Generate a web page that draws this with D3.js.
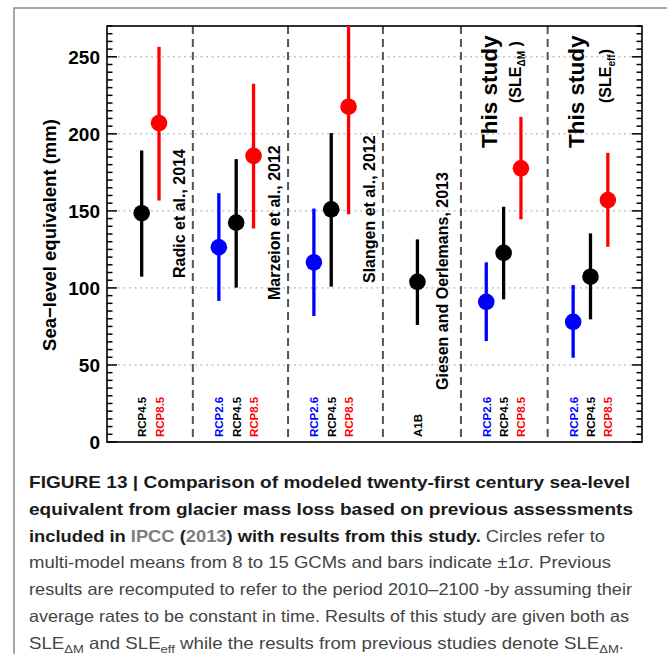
<!DOCTYPE html>
<html>
<head>
<meta charset="utf-8">
<script src="https://cdn.jsdelivr.net/npm/d3@7"></script>
<style>
  body { margin: 0; background: #fff; }
  svg { display: block; font-family: 'Liberation Sans', Arial, sans-serif; }
</style>
</head>
<body>
<script>
// values (mm SLE, 2010-2100)
const scenarios = ['RCP4.5', 'RCP8.5',
    'RCP2.6', 'RCP4.5', 'RCP8.5',
    'RCP2.6', 'RCP4.5', 'RCP8.5',
    'A1B',
    'RCP2.6', 'RCP4.5', 'RCP8.5',
    'RCP2.6', 'RCP4.5', 'RCP8.5'];
const xPos = [2, 3, 6.45, 7.45, 8.45, 11.93, 12.93, 13.93, 17.9, 21.87, 22.87, 23.87, 26.88, 27.88, 28.88];
const means = [148.5, 207, 126.4, 142.4, 185.7, 116.6, 151, 217.6, 104, 91, 122.8, 177.6, 78, 107.3, 157];
const upper = [189.2, 256.5, 161.5, 183.6, 232.5, 151.5, 200.5, 288, 131.5, 116.6, 152.7, 211, 101.9, 135.4, 187.7];
const lower = [107.3, 156.7, 91.6, 100.2, 138.5, 81.8, 100.8, 147.8, 76, 65.5, 92.6, 144.5, 54.7, 79.6, 126.7];

const separators = [4.95, 10.44, 15.91, 20.41, 25.41];
const yTicks = [0, 50, 100, 150, 200, 250];

const studies = [
    { name: 'Radic et al.', year: '2014' },
    { name: 'Marzeion et al.', year: '2012' },
    { name: 'Slangen et al.', year: '2012' },
    { name: 'Giesen and Oerlemans', year: '2013' }
];
const thisStudy = [{ title: 'This study', sub: 'ΔM' }, { title: 'This study', sub: 'eff' }];

const colors = { 'RCP2.6': '#0000ff', 'RCP4.5': '#000000', 'RCP8.5': '#ff0000', 'A1B': '#000000' };

const W = 667, H = 654;
const plot = { left: 107, right: 642, top: 26, bottom: 442 };

const svg = d3.select('body').append('svg')
    .attr('width', W)
    .attr('height', H);

svg.append('rect').attr('width', W).attr('height', H).attr('fill', '#fff');

// outer panel frame (runs off the page to the right and bottom)
svg.append('rect')
    .attr('x', 14).attr('y', 8)
    .attr('width', 700).attr('height', 700)
    .attr('fill', 'none')
    .attr('stroke', '#8a8a8a')
    .attr('stroke-width', 1.5);

const x = d3.scaleLinear().domain([0, 30.85]).range([plot.left, plot.right]);
const y = d3.scaleLinear().domain([0, 270]).range([plot.bottom, plot.top]);

svg.append('clipPath').attr('id', 'clip')
    .append('rect')
    .attr('x', plot.left).attr('y', plot.top)
    .attr('width', plot.right - plot.left).attr('height', plot.bottom - plot.top);

// dotted grid
svg.append('g').selectAll('line')
    .data(yTicks.filter(d => d > 0))
    .join('line')
    .attr('x1', plot.left).attr('x2', plot.right)
    .attr('y1', d => y(d)).attr('y2', d => y(d))
    .attr('stroke', '#a8a8a8')
    .attr('stroke-width', 1)
    .attr('stroke-dasharray', '2,3.5');

// dashed separators between studies
svg.append('g').selectAll('line')
    .data(separators)
    .join('line')
    .attr('x1', d => x(d)).attr('x2', d => x(d))
    .attr('y1', plot.top).attr('y2', plot.bottom)
    .attr('stroke', '#555')
    .attr('stroke-width', 2)
    .attr('stroke-dasharray', '8,5');

// inward ticks on both sides: minor every 5 mm, major every 50
const tickVals = d3.range(0, 271, 5);
[[plot.left, 1], [plot.right, -1]].forEach(([pos, dir]) => {
    svg.append('g').selectAll('line')
        .data(tickVals)
        .join('line')
        .attr('x1', pos)
        .attr('x2', d => pos + dir * (d % 50 === 0 ? 10 : 5.5))
        .attr('y1', d => y(d))
        .attr('y2', d => y(d))
        .attr('stroke', '#000')
        .attr('stroke-width', 1.5);
});

// plot frame
svg.append('rect')
    .attr('x', plot.left).attr('y', plot.top)
    .attr('width', plot.right - plot.left).attr('height', plot.bottom - plot.top)
    .attr('fill', 'none')
    .attr('stroke', '#000')
    .attr('stroke-width', 1.6);

// y tick labels
svg.append('g').selectAll('text')
    .data(yTicks)
    .join('text')
    .attr('x', 100)
    .attr('y', d => y(d))
    .attr('dy', '0.36em')
    .attr('text-anchor', 'end')
    .attr('font-size', 19)
    .attr('font-weight', 'bold')
    .text(d => d);

svg.append('text')
    .attr('transform', 'translate(56,235) rotate(-90)')
    .attr('text-anchor', 'middle')
    .attr('font-size', 18.5)
    .attr('font-weight', 'bold')
    .text('Sea\u2212level equivalent (mm)');

// error bars and means
const points = scenarios.map((s, i) => ({ s, x: xPos[i], m: means[i], lo: lower[i], hi: upper[i] }));

const marks = svg.append('g').attr('clip-path', 'url(#clip)');

marks.selectAll('line')
    .data(points)
    .join('line')
    .attr('x1', d => x(d.x)).attr('x2', d => x(d.x))
    .attr('y1', d => y(d.lo)).attr('y2', d => y(d.hi))
    .attr('stroke', d => colors[d.s])
    .attr('stroke-width', 3.3);

marks.selectAll('circle')
    .data(points)
    .join('circle')
    .attr('cx', d => x(d.x))
    .attr('cy', d => y(d.m))
    .attr('r', 8.3)
    .attr('fill', d => colors[d.s]);

// scenario names along the bottom
svg.append('g').selectAll('text')
    .data(points)
    .join('text')
    .attr('transform', d => `translate(${x(d.x) + 4.5},${plot.bottom - 5}) rotate(-90)`)
    .attr('font-size', 11.5)
    .attr('font-weight', 'bold')
    .attr('fill', d => colors[d.s])
    .text(d => d.s);

// study names
const studyLayout = [
    { x: 4.5, y: 278 },
    { x: 9.95, y: 300 },
    { x: 15.46, y: 283 },
    { x: 19.68, y: 390 }
];
svg.append('g').selectAll('text')
    .data(studies)
    .join('text')
    .attr('transform', (d, i) => `translate(${x(studyLayout[i].x)},${studyLayout[i].y}) rotate(-90)`)
    .attr('font-size', 16)
    .attr('font-weight', 'bold')
    .text(d => `${d.name}, ${d.year}`);

// "This study" labels
const thisLayout = [{ x: 22.5, sx: 23.89 }, { x: 27.52, sx: 29.08 }];
thisStudy.forEach((d, i) => {
    svg.append('text')
        .attr('transform', `translate(${x(thisLayout[i].x)},148) rotate(-90)`)
        .attr('font-size', 22.5)
        .attr('font-weight', 'bold')
        .text(d.title);
    const t = svg.append('text')
        .attr('transform', `translate(${x(thisLayout[i].sx)},103) rotate(-90)`)
        .attr('font-size', 16)
        .attr('font-weight', 'bold');
    t.append('tspan').text('(SLE');
    t.append('tspan').attr('font-size', 10).attr('dy', 4).text(d.sub);
    t.append('tspan').attr('dy', -4).text(i === 0 ? ' )' : ')');
});

// caption
const capLines = [
    { len: 601, parts: [{ t: 'FIGURE 13 | Comparison of modeled twenty-first century sea-level', b: true }] },
    { len: 604, parts: [{ t: 'equivalent from glacier mass loss based on previous assessments', b: true }] },
    { len: 576, parts: [{ t: 'included in ', b: true }, { t: 'IPCC', b: true, link: true }, { t: ' (', b: true },
        { t: '2013', b: true, link: true }, { t: ') with results from this study.', b: true }, { t: ' Circles refer to' }] },
    { len: 582, parts: [{ t: 'multi-model means from 8 to 15 GCMs and bars indicate \u00b11' }, { t: '\u03c3', i: true }, { t: '. Previous' }] },
    { len: 603, parts: [{ t: 'results are recomputed to refer to the period 2010\u20132100 -by assuming their' }] },
    { len: 600, parts: [{ t: 'average rates to be constant in time. Results of this study are given both as' }] },
    { len: 595, parts: [{ t: 'SLE' }, { t: '\u0394M', sub: true }, { t: ' and SLE' }, { t: 'eff', sub: true },
        { t: ' while the results from previous studies denote SLE' }, { t: '\u0394M', sub: true }, { t: '.' }] }
];

const capText = svg.append('g').selectAll('text')
    .data(capLines)
    .join('text')
    .attr('x', 29)
    .attr('y', (d, i) => 488 + i * 26.8)
    .attr('font-size', 16.5)
    .attr('textLength', d => d.len)
    .attr('lengthAdjust', 'spacingAndGlyphs');

capText.each(function (line) {
    const el = d3.select(this);
    let shifted = false;
    line.parts.forEach(p => {
        const ts = el.append('tspan').text(p.t);
        if (p.b) ts.attr('font-weight', 'bold').attr('fill', p.link ? '#7d7d7d' : '#1a1a1a');
        else ts.attr('fill', '#444');
        if (p.i) ts.attr('font-style', 'italic');
        if (p.sub) { ts.attr('font-size', 11.5).attr('dy', 4); shifted = true; }
        else if (shifted) { ts.attr('dy', -4); shifted = false; }
    });
});
</script>
</body>
</html>
